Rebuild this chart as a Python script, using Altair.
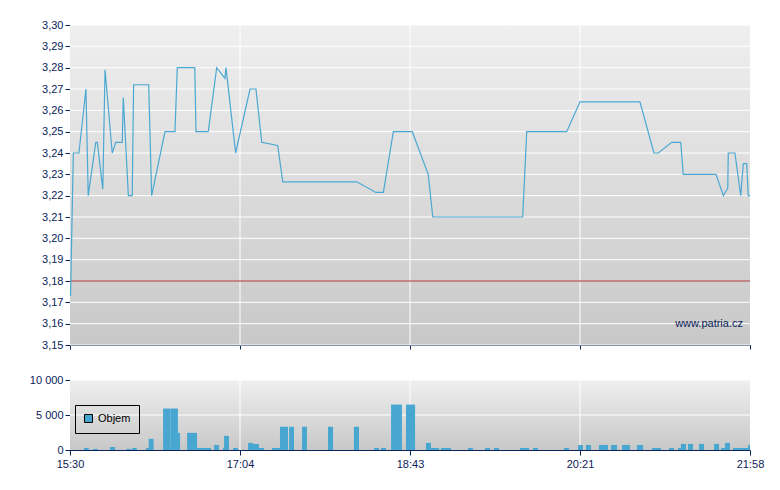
import altair as alt
import pandas as pd

# ---- data (minutes after 15:30) ----
price_t = [0.3, 1.9, 5.1, 9.1, 10.4, 14.7, 15.6, 18.7, 20.0, 24.1, 26.1, 29.8, 30.4, 33.3, 35.5,
           36.3, 44.9, 46.6, 54.2, 59.9, 61.2, 71.2, 71.9, 78.9, 83.7, 88.4, 89.0, 94.5, 102.7, 106.1,
           109.4, 118.5, 121.4, 163.6, 174.6, 178.8, 184.5, 195.3, 204.4, 207.0, 258.3, 260.6, 283.4,
           291.0, 325.2, 333.2, 335.7, 343.3, 348.5, 349.9, 368.6, 372.8, 375.3, 375.6, 379.4, 382.7,
           384.2, 386.1, 387.0, 388.0]
price_v = [3.173, 3.24, 3.24, 3.27, 3.22, 3.245, 3.245, 3.223, 3.279, 3.24, 3.245, 3.245, 3.266, 3.22,
           3.22, 3.272, 3.272, 3.22, 3.25, 3.25, 3.28, 3.28, 3.25, 3.25, 3.28, 3.275, 3.28, 3.24, 3.27,
           3.27, 3.245, 3.2435, 3.2265, 3.2265, 3.2215, 3.2215, 3.25, 3.25, 3.23, 3.21, 3.21, 3.25, 3.25,
           3.264, 3.264, 3.24, 3.24, 3.245, 3.245, 3.23, 3.23, 3.22, 3.2235, 3.24, 3.24, 3.22, 3.235,
           3.235, 3.22, 3.22]

vol_start = [8.0, 13.1, 22.8, 32.0, 35.4, 43.4, 44.9, 53.1, 57.4, 61.6, 66.8, 69.6, 72.5, 76.5, 82.2,
             87.3, 87.9, 93.0, 101.6, 104.4, 107.8, 115.3, 119.8, 125.0, 132.4, 147.2, 162.0, 173.5,
             177.5, 183.2, 191.7, 203.1, 206.0, 211.7, 227.1, 236.8, 241.9, 256.8, 264.2, 281.9, 289.9,
             294.4, 301.8, 308.7, 315.0, 323.5, 332.1, 341.8, 346.9, 348.6, 352.6, 358.9, 367.5, 371.5,
             373.7, 378.3, 386.9]
vol_end = [10.7, 15.8, 25.7, 34.8, 38.1, 44.9, 47.7, 57.4, 61.6, 62.8, 69.6, 72.5, 76.5, 80.5, 85.0,
           87.9, 90.7, 95.9, 104.4, 107.8, 110.7, 119.8, 124.4, 127.8, 135.2, 150.1, 164.9, 176.3,
           180.3, 189.4, 196.9, 206.0, 210.6, 217.4, 229.9, 239.7, 244.8, 261.9, 267.0, 284.7, 292.7,
           297.3, 307.0, 312.1, 319.5, 327.0, 337.2, 344.6, 348.6, 351.5, 355.5, 361.8, 370.3, 373.7,
           376.6, 386.9, 388.0]
vol_value = [290, 150, 430, 150, 290, 290, 1590, 5920, 5920, 2450, 2450, 2450, 290, 290, 720, 290,
             2020, 290, 1010, 870, 290, 290, 3320, 3320, 3320, 3320, 3320, 290, 290, 6490, 6490, 1010,
             290, 290, 290, 290, 290, 290, 290, 290, 720, 720, 720, 720, 720, 720, 290, 290, 290, 870,
             870, 870, 870, 290, 1010, 290, 720]

time_ticks = [0, 97, 194, 291, 388]
time_labels = ["15:30", "17:04", "18:43", "20:21", "21:58"]
price_ticks = [3.15, 3.16, 3.17, 3.18, 3.19, 3.20, 3.21, 3.22, 3.23, 3.24, 3.25, 3.26, 3.27, 3.28, 3.29, 3.30]
vol_ticks = [0, 5000, 10000]
prev_close = [3.18]
series_name = "Objem"
watermark = "www.patria.cz"
watermark_pos = [384, 3.160]

NAVY = "#0b2358"
LINE = "#4ba8d2"
FONT = "Liberation Sans"

price_df = pd.DataFrame({"t": price_t, "p": price_v})
vol_df = pd.DataFrame({"t0": vol_start, "t1": vol_end, "v": vol_value, "s": series_name})

label_expr = "[" + ",".join("'%s'" % l for l in time_labels) + "][indexof([" + \
    ",".join(str(t) for t in time_ticks) + "], datum.value)]"

xscale = alt.Scale(domain=[0, 388], nice=False, zero=False)

grad = alt.Gradient(gradient="linear", x1=0, x2=0, y1=0, y2=1,
                    stops=[alt.GradientStop(color="#efefef", offset=0),
                           alt.GradientStop(color="#c8c8c8", offset=1)])

one = pd.DataFrame({"a": [0]})
bg = alt.Chart(one).mark_rect(color=grad).encode(
    x=alt.value(0), x2=alt.value("width"), y=alt.value(0), y2=alt.value("height"))

# ---------- top panel ----------
pscale = alt.Scale(domain=[3.15, 3.30], nice=False, zero=False)
x_top = alt.X("t:Q", scale=xscale, axis=alt.Axis(values=time_ticks, labels=False, title=None,
                                                   grid=False, tickSize=4))
y_top = alt.Y("p:Q", scale=pscale, axis=alt.Axis(values=price_ticks, title=None, grid=False, tickSize=5,
              labelOverlap=False, labelFlush=False,
              labelExpr="replace(format(datum.value, '.2f'), '.', ',')"))

hgrid_top = alt.Chart(pd.DataFrame({"p": price_ticks})).mark_rule(color="white", strokeWidth=1).encode(y=y_top)
vgrid_top = alt.Chart(pd.DataFrame({"t": time_ticks[1:-1]})).mark_rule(color="white", strokeWidth=1).encode(x=x_top)
ref = alt.Chart(pd.DataFrame({"p": prev_close})).mark_rule(color="#9e2424", strokeWidth=1).encode(y=y_top)
line = alt.Chart(price_df).mark_line(color=LINE, strokeWidth=1.2, interpolate="linear").encode(x=x_top, y=y_top)
wm = alt.Chart(pd.DataFrame({"t": [watermark_pos[0]], "p": [watermark_pos[1]], "txt": [watermark]})).mark_text(
    align="right", baseline="middle", font=FONT, fontSize=11, color=NAVY).encode(
    x=x_top, y=y_top, text="txt:N")

top = alt.layer(bg, hgrid_top, vgrid_top, ref, line, wm).properties(width=680, height=320)

# ---------- bottom panel ----------
vscale = alt.Scale(domain=[0, 10000], nice=False)
x_bot = alt.X("t0:Q", scale=xscale, axis=alt.Axis(values=time_ticks, title=None, grid=False, tickSize=5,
                                                    labelExpr=label_expr, labelFlush=False,
                                                    labelOverlap=False, labelPadding=3))
y_bot = alt.Y("v:Q", scale=vscale, axis=alt.Axis(values=vol_ticks, title=None, grid=False, tickSize=5,
              labelOverlap=False, labelFlush=False,
              labelExpr="replace(format(datum.value, ','), ',', ' ')"))

hgrid_bot = alt.Chart(pd.DataFrame({"v": vol_ticks[1:]})).mark_rule(color="white", strokeWidth=1).encode(y=y_bot)
vgrid_bot = alt.Chart(pd.DataFrame({"t0": time_ticks[1:-1]})).mark_rule(color="white", strokeWidth=1).encode(x=x_bot)
bars = alt.Chart(vol_df).mark_rect().encode(
    x=x_bot, x2="t1:Q", y=y_bot, y2=alt.datum(0),
    color=alt.Color("s:N", scale=alt.Scale(range=["#47a7d0"]),
                    legend=alt.Legend(title=None, orient="none", legendX=5, legendY=25,
                                      strokeColor="black", padding=8, symbolType="square",
                                      symbolSize=64, symbolStrokeColor="black", symbolStrokeWidth=1,
                                      symbolOpacity=1, labelFont=FONT, labelFontSize=11,
                                      labelColor="black", symbolOffset=0)))

bottom = alt.layer(bg, hgrid_bot, vgrid_bot, bars).properties(width=680, height=70)

chart = alt.vconcat(top, bottom, spacing=35, bounds="flush").resolve_scale(
    color="independent").resolve_legend(color="independent").properties(
    padding={"left": 20, "top": 10, "right": 5, "bottom": 5}
).configure_axis(
    domainColor=NAVY, tickColor=NAVY, labelColor=NAVY, labelFont=FONT, labelFontSize=11,
    labelPadding=2, domainWidth=1, tickWidth=1
).configure_view(stroke="transparent")

chart.save("out.html", embed_options={"renderer": "svg", "actions": False})
